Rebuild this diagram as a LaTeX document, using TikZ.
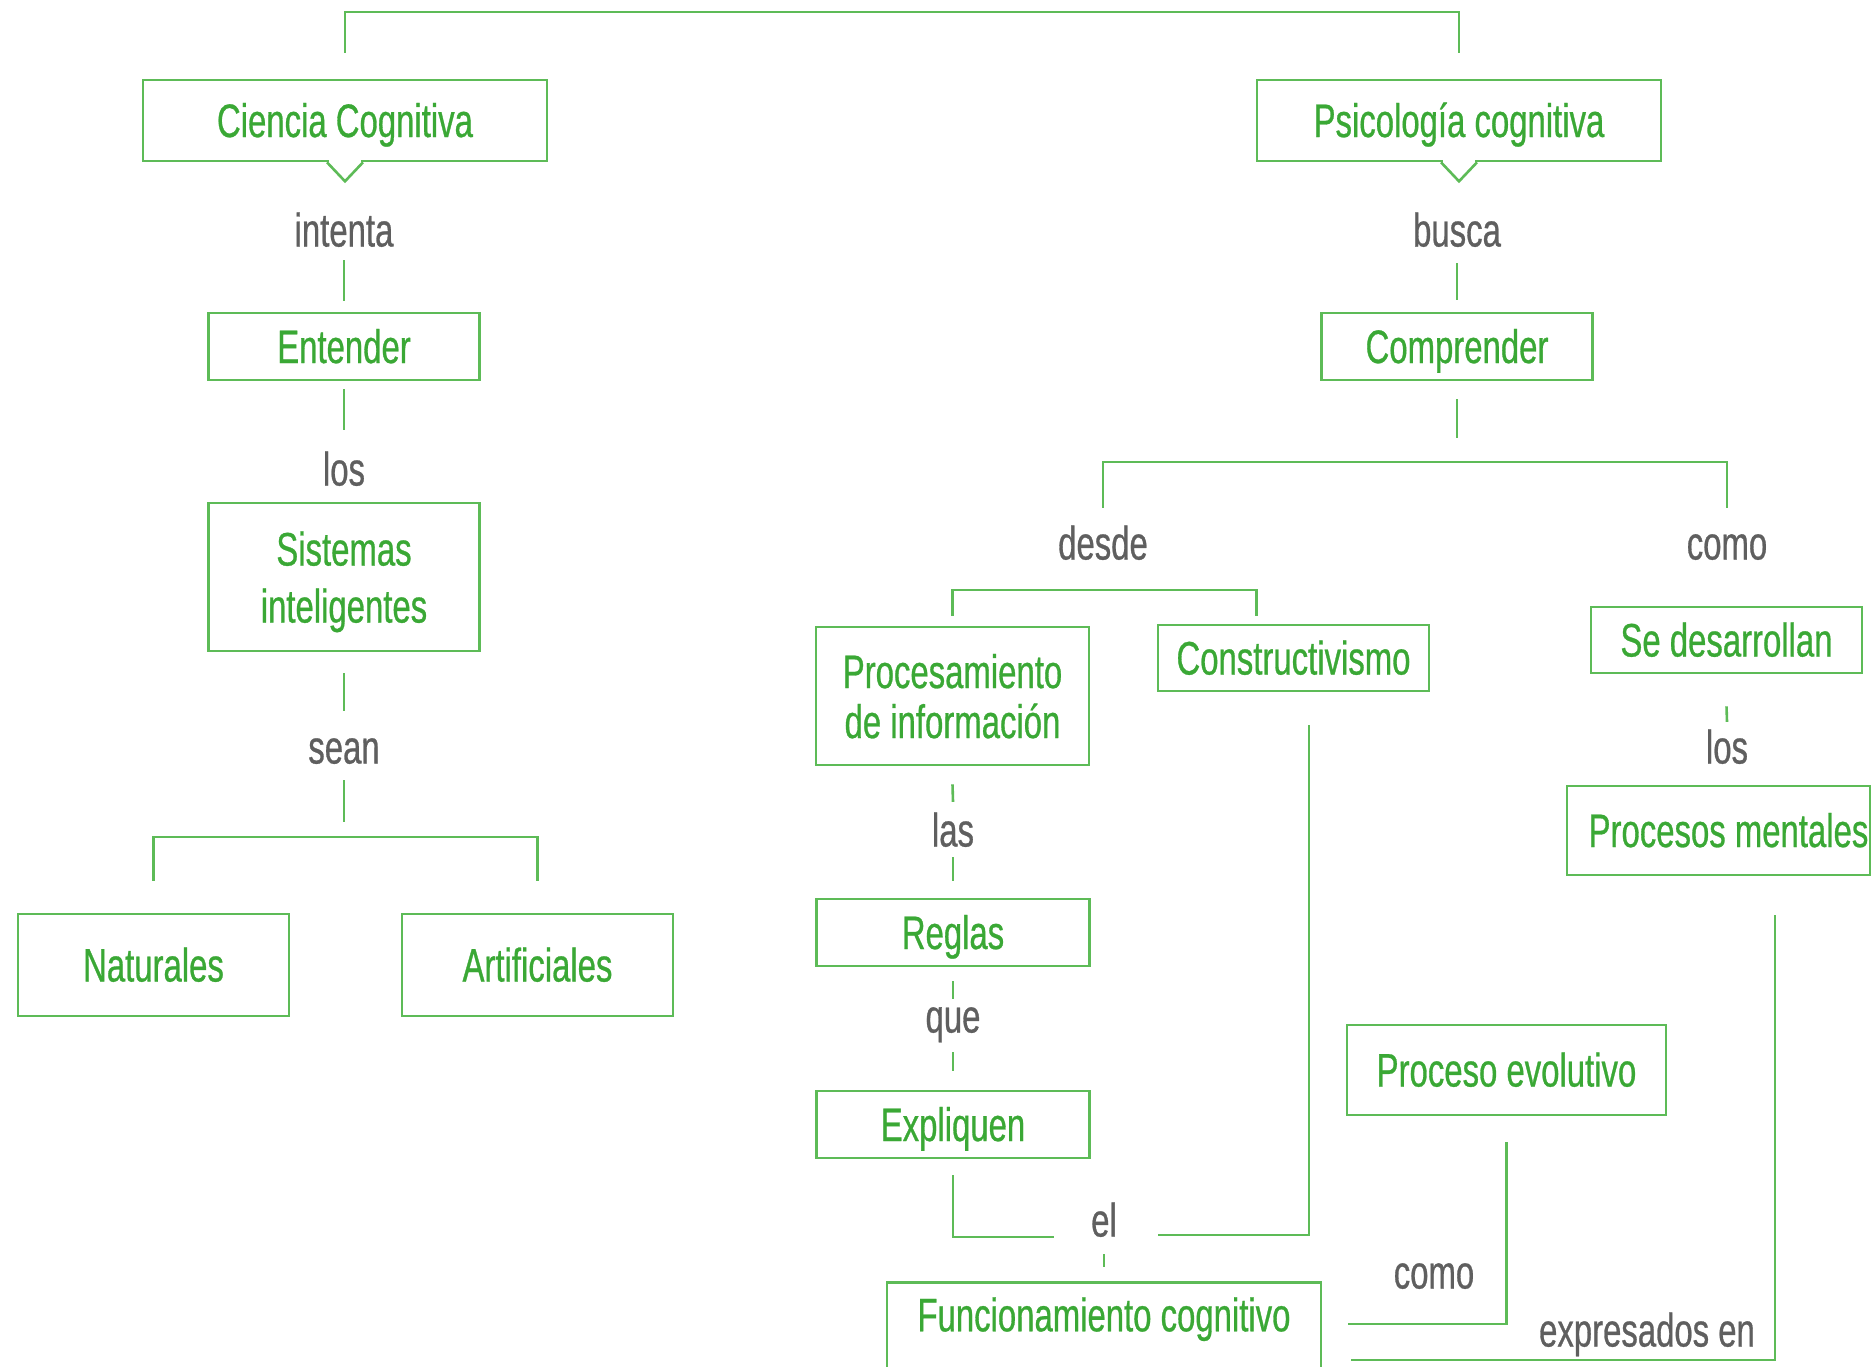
\documentclass[tikz,border=0pt]{standalone}
\usepackage{fontspec}
\setmainfont{Liberation Sans}[FakeStretch=0.70,FakeBold=0.6]
\definecolor{linegreen}{HTML}{5DBB57}
\definecolor{textgreen}{HTML}{3AA835}
\definecolor{labelgray}{HTML}{5F5F5F}
\newcommand\mapfont{\fontsize{47}{56}\selectfont}

\begin{document}
\begin{tikzpicture}[x=1pt,y=-1pt,
  link/.style={draw=linegreen, line width=2.6pt},
  concept/.style={draw=linegreen, line width=2.6pt, text=textgreen, font=\mapfont,
    inner sep=0pt, minimum width=271pt, minimum height=67pt,
    text height=33pt, text depth=0pt},
  concepttwo/.style={draw=linegreen, line width=2.6pt, text=textgreen,
    inner sep=0pt, minimum width=271pt, align=center, text depth=0pt},
  word/.style={text=labelgray, font=\mapfont, inner sep=0pt,
    minimum height=60pt, text height=33pt, text depth=0pt},
]
\fill[white] (0,0) rectangle (1874,1366);
\useasboundingbox (0,0) rectangle (1874,1366);

% ---- left branch: Ciencia Cognitiva
\node[concept, minimum width=404pt, minimum height=81pt] (cc) at (345,120.5) {Ciencia Cognitiva};
\node[word] (intenta) at (344,230) {intenta};
\node[concept] (ent) at (344,346.5) {Entender};
\node[word] (los1) at (344,469) {los};
\node[concepttwo, minimum height=148pt, font=\fontsize{47}{57}\selectfont] (sis) at (344,577) {Sistemas\\inteligentes};
\node[word] (sean) at (344,747) {sean};
\node[concept, minimum height=102pt] (nat) at (153.5,965) {Naturales};
\node[concept, minimum height=102pt] (art) at (537.5,965) {Artificiales};

% ---- right branch: Psicología cognitiva
\node[concept, minimum width=404pt, minimum height=81pt] (pc) at (1459,120.5) {Psicología cognitiva};
\node[word] (busca) at (1457,230) {busca};
\node[concept] (comp) at (1457,346.5) {Comprender};
\node[word] (desde) at (1103,543) {desde};
\node[word] (como1) at (1727,543) {como};
\node[concepttwo, minimum width=273pt, minimum height=138pt, font=\fontsize{47}{50}\selectfont] (proc) at (952.5,696) {Procesamiento\\de información};
\node[concept, minimum height=66pt] (cons) at (1293.5,658) {Constructivismo};
\node[concept, minimum height=66pt] (sed) at (1726.5,640) {Se desarrollan};
\node[word] (los2) at (1727,747) {los};
\node[concept, minimum width=303pt, minimum height=89pt] (pm) at (1718.5,830.5) {\hspace*{20pt}Procesos mentales};
\node[word] (las) at (953,830) {las};
\node[concept, minimum width=273pt] (reg) at (953,932.5) {Reglas};
\node[word] (que) at (953,1016) {que};
\node[concept, minimum width=273pt] (exp) at (953,1124.5) {Expliquen};
\node[word] (el) at (1104,1220) {el};
\node[concept, minimum width=319pt, minimum height=90pt] (pe) at (1506.5,1070) {Proceso evolutivo};
\node[word] (como2) at (1434,1272) {como};
\node[word] (expr) at (1647,1330) {expresados en};
\node[concept, minimum width=434pt, minimum height=0pt, anchor=north,
  inner ysep=16pt, text height=33pt, text depth=51pt] (fun) at (1104,1281) {Funcionamiento cognitivo};

% ---- callout pointers under the two heading boxes
\foreach \n in {cc,pc}{
  \draw[white, line width=4pt] ([xshift=-16pt]\n.south) -- ([xshift=16pt]\n.south);
  \draw[link, line join=miter] ([xshift=-18pt]\n.south) -- ([yshift=-19pt]\n.south) -- ([xshift=18pt]\n.south);
}

% ---- connectors
\coordinate (topbar) at (0,12);
\draw[link] ([yshift=26pt]cc.north) -- (cc.north |- topbar) -- (pc.north |- topbar) -- ([yshift=26pt]pc.north);

\draw[link] (intenta.south) -- ([yshift=11pt]ent.north);
\draw[link] ([yshift=-8pt]ent.south) -- ([yshift=9pt]los1.north);
\draw[link] ([yshift=-21pt]sis.south) -- ([yshift=6pt]sean.north);
\draw[link] ([yshift=-3pt]sean.south) -- ([yshift=-45pt]sean.south);
\coordinate (seanbar) at (0,837);
\draw[link] ([yshift=32pt]nat.north) -- (nat.north |- seanbar) -- (art.north |- seanbar) -- ([yshift=32pt]art.north);

\draw[link] ([yshift=-3pt]busca.south) -- ([yshift=12pt]comp.north);
\draw[link] ([yshift=-18pt]comp.south) -- ([yshift=-57pt]comp.south);
\coordinate (compbar) at (0,462);
\draw[link] ([yshift=5pt]desde.north) -- (desde.north |- compbar) -- (como1.north |- compbar) -- ([yshift=5pt]como1.north);
\coordinate (desdebar) at (0,590);
\coordinate (consin) at ([xshift=-37pt,yshift=8pt]cons.north);
\draw[link] ([yshift=10pt]proc.north) -- (proc.north |- desdebar) -- (consin |- desdebar) -- (consin);

\draw[link] ([yshift=-32pt]sed.south) -- ([yshift=-5pt]los2.north);
\draw[link] ([yshift=-18pt]proc.south) -- ([yshift=-2pt]las.north);
\draw[link] ([yshift=3pt]las.south) -- ([yshift=17pt]reg.north);
\draw[link] ([yshift=-14pt]reg.south) -- ([yshift=-13pt]que.north);
\draw[link] ([yshift=-6pt]que.south) -- ([yshift=19pt]exp.north);

\draw[link] ([yshift=-16pt]exp.south) |- ([xshift=-50pt,yshift=-17pt]el.center);
\draw[link] ([xshift=15.5pt,yshift=-33pt]cons.south) |- ([xshift=54pt,yshift=-15pt]el.center);
\draw[link] ([yshift=-4pt]el.south) -- ([yshift=14pt]fun.north);
\draw[link] ([yshift=-26pt]pe.south) |- ([xshift=26pt,yshift=16.5pt]fun.east);
\draw[link] ([xshift=56.5pt,yshift=-39pt]pm.south) |- ([xshift=29pt,yshift=-19.5pt]fun.east);
\end{tikzpicture}
\end{document}
